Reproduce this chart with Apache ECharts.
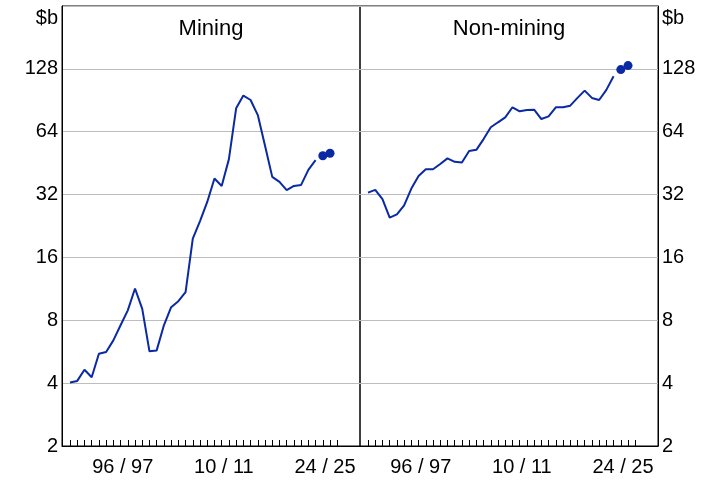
<!DOCTYPE html>
<html>
<head>
<meta charset="utf-8">
<script src="https://cdn.jsdelivr.net/npm/echarts@6/dist/echarts.min.js"></script>
<style>html,body{margin:0;padding:0;background:#fff}#c{width:715px;height:480px}</style>
</head>
<body>
<div id="c"></div>
<script>
// ---- data ----
var startYear = 1989; // 1989/90
var miningValues = [4.03, 4.1, 4.64, 4.27, 5.53, 5.64, 6.41, 7.57, 8.93, 11.36, 9.07, 5.68, 5.74, 7.57, 9.24, 9.87, 10.9, 19.7, 23.9, 29.5, 38.2, 35.2, 47.3, 82.8, 95.3, 90.8, 76.9, 54.8, 38.9, 36.8, 33.6, 35.2, 35.6, 42.0, 46.8];
var miningForecast = [49.1, 50.5];
var nonMiningValues = [32.7, 33.7, 30.4, 24.8, 25.7, 28.4, 34.2, 39.3, 42.3, 42.3, 44.8, 47.7, 45.9, 45.6, 51.7, 52.4, 59.0, 67.2, 71.0, 75.0, 83.8, 80.2, 81.3, 81.6, 73.6, 75.8, 83.8, 83.8, 85.3, 92.9, 100.7, 92.9, 90.8, 101.5, 118.0];
var nonMiningForecast = [127, 132.7];
var panelTitles = ['Mining', 'Non-mining'];
var xTickLabels = ['96 / 97', '10 / 11', '24 / 25'];
var xTickLabelYears = [1996, 2010, 2024];
var yTickValues = [2, 4, 8, 16, 32, 64, 128, 256];
var unitLabel = '$b';

// ---- build ----
function pairs(vals, y0) { return vals.map(function (v, i) { return [y0 + i, v]; }); }
var forecastStart = startYear + miningValues.length;
var tickYears = [];
for (var y = startYear; y <= 2026; y++) tickYears.push(y);
var labelPos = xTickLabelYears.map(function (y) { return y + 0.3; });
var labelMap = {};
xTickLabelYears.forEach(function (y, i) { labelMap[y] = xTickLabels[i]; });

var FONT = 'Liberation Sans, Arial, sans-serif';
var BLUE = '#0a2aa3';
var xMin = 1987.89, xMax = 2029.15;

function xAxis(idx) {
  return {
    type: 'value', gridIndex: idx, min: xMin, max: xMax,
    axisLine: { show: true, lineStyle: { color: '#000', width: 1 } },
    axisTick: { show: true, inside: true, length: 6, customValues: tickYears, lineStyle: { color: '#000' } },
    axisLabel: {
      customValues: labelPos, color: '#000', fontFamily: FONT, fontSize: 20, margin: 11,
      formatter: function (v) { return labelMap[Math.round(v - 0.3)] || ''; }
    },
    splitLine: { show: false }
  };
}
function yAxis(idx, pos) {
  return {
    type: 'log', logBase: 2, gridIndex: idx, min: 2, max: 256, position: pos,
    axisLine: { show: true, lineStyle: { color: '#000' } },
    axisTick: { show: false },
    axisLabel: {
      color: '#000', fontFamily: FONT, fontSize: 20, margin: 4,
      formatter: function (v) { return yTickValues.indexOf(Math.round(v)) >= 0 && Math.round(v) !== 256 ? String(Math.round(v)) : ''; }
    },
    splitLine: { show: true, lineStyle: { color: '#bdbdbd', width: 1 } }
  };
}

var chart = echarts.init(document.getElementById('c'), null, { renderer: 'canvas' });
chart.setOption({
  animation: false,
  backgroundColor: '#fff',
  grid: [
    { left: 62, top: 6, width: 298, height: 440, show: true, borderColor: '#000', borderWidth: 1, backgroundColor: 'transparent' },
    { left: 360, top: 6, width: 298, height: 440, show: true, borderColor: '#000', borderWidth: 1, backgroundColor: 'transparent' }
  ],
  xAxis: [xAxis(0), xAxis(1)],
  yAxis: [yAxis(0, 'left'), yAxis(1, 'right')],
  graphic: [
    { type: 'text', style: { x: 211, y: 29, text: panelTitles[0], font: '22px ' + FONT, fill: '#000', align: 'center', verticalAlign: 'middle' } },
    { type: 'text', style: { x: 509, y: 29, text: panelTitles[1], font: '22px ' + FONT, fill: '#000', align: 'center', verticalAlign: 'middle' } },
    { type: 'text', style: { x: 58, y: 18, text: unitLabel, font: '20px ' + FONT, fill: '#000', align: 'right', verticalAlign: 'middle' } },
    { type: 'text', style: { x: 662, y: 18, text: unitLabel, font: '20px ' + FONT, fill: '#000', align: 'left', verticalAlign: 'middle' } }
  ],
  series: [
    { type: 'line', xAxisIndex: 0, yAxisIndex: 0, data: pairs(miningValues, startYear), showSymbol: false, lineStyle: { color: BLUE, width: 2 }, itemStyle: { color: BLUE } },
    { type: 'scatter', xAxisIndex: 0, yAxisIndex: 0, data: pairs(miningForecast, forecastStart), symbolSize: 9, itemStyle: { color: BLUE, opacity: 1 } },
    { type: 'line', xAxisIndex: 1, yAxisIndex: 1, data: pairs(nonMiningValues, startYear), showSymbol: false, lineStyle: { color: BLUE, width: 2 }, itemStyle: { color: BLUE } },
    { type: 'scatter', xAxisIndex: 1, yAxisIndex: 1, data: pairs(nonMiningForecast, forecastStart), symbolSize: 9, itemStyle: { color: BLUE, opacity: 1 } }
  ]
});
</script>
</body>
</html>
